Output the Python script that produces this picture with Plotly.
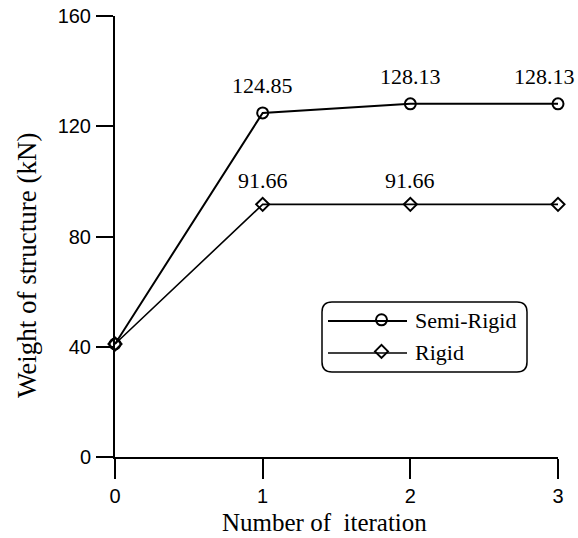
import plotly.graph_objects as go

iterations = [0, 1, 2, 3]
semi_rigid = [41.0, 124.85, 128.13, 128.13]
rigid = [41.0, 91.66, 91.66, 91.66]
semi_labels = ["", "124.85", "128.13", "128.13"]
rigid_labels = ["", "91.66", "91.66", ""]
y_ticks = [0, 40, 80, 120, 160]
x_ticks = [0, 1, 2, 3]

serif = "Liberation Serif, Times New Roman, serif"
sans = "Liberation Sans, Arial, sans-serif"

# plot area sits at x 115..558, y 16..457 of the 578x538 window
PX0, PW, PY0, PH = 115, 443, 16, 441
def px(x):
    return (x - PX0) / PW
def py(y):
    return (PY0 + PH - y) / PH

semi_marker = dict(symbol="circle-open", size=11, color="black", line=dict(width=2))
rigid_marker = dict(symbol="diamond-open", size=10, color="black", line=dict(width=2))

fig = go.Figure()
fig.add_trace(go.Scatter(
    x=iterations, y=semi_rigid, name="Semi-Rigid", mode="lines+markers",
    line=dict(color="black", width=2), marker=semi_marker,
    cliponaxis=False, showlegend=False,
))
fig.add_trace(go.Scatter(
    x=iterations, y=rigid, name="Rigid", mode="lines+markers",
    line=dict(color="black", width=1.6), marker=rigid_marker,
    cliponaxis=False, showlegend=False,
))
# legend entries (markers only; the long legend lines are drawn as shapes)
fig.add_trace(go.Scatter(x=[None], y=[None], name="Semi-Rigid", mode="markers",
                         marker=semi_marker))
fig.add_trace(go.Scatter(x=[None], y=[None], name="Rigid", mode="markers",
                         marker=rigid_marker))

last = len(iterations) - 1
for i, (xv, yv, t) in enumerate(zip(iterations, semi_rigid, semi_labels)):
    if t:
        fig.add_annotation(x=xv, y=yv, text=t, showarrow=False, yshift=27,
                           xshift=-14 if i == last else 0,
                           font=dict(family=serif, size=22, color="black"))
for i, (xv, yv, t) in enumerate(zip(iterations, rigid, rigid_labels)):
    if t:
        fig.add_annotation(x=xv, y=yv, text=t, showarrow=False, yshift=24,
                           font=dict(family=serif, size=22, color="black"))

# axis titles
fig.add_annotation(x=px(324), y=py(522), xref="paper", yref="paper",
                   xanchor="center", yanchor="middle",
                   text="Number of&nbsp;&nbsp;iteration", showarrow=False,
                   font=dict(family=serif, size=25, color="black"))
fig.add_annotation(x=px(27), y=py(265), xref="paper", yref="paper",
                   xanchor="center", yanchor="middle",
                   text="Weight of structure (kN)", showarrow=False, textangle=-90,
                   font=dict(family=serif, size=27, color="black"))

# rounded legend frame
x0, x1, y0, y1 = px(322), px(527), py(372), py(302)
rx, ry = 10 / PW, 10 / PH
path = (f"M {x0+rx},{y1} L {x1-rx},{y1} Q {x1},{y1} {x1},{y1-ry} "
        f"L {x1},{y0+ry} Q {x1},{y0} {x1-rx},{y0} L {x0+rx},{y0} "
        f"Q {x0},{y0} {x0},{y0+ry} L {x0},{y1-ry} Q {x0},{y1} {x0+rx},{y1} Z")
fig.add_shape(type="path", path=path, xref="paper", yref="paper",
              line=dict(color="black", width=1.5))
# legend sample lines
for yy, w in ((321, 2), (353, 1.6)):
    fig.add_shape(type="line", xref="paper", yref="paper",
                  x0=px(328), x1=px(407), y0=py(yy), y1=py(yy),
                  line=dict(color="black", width=w))

fig.update_layout(
    width=578, height=538,
    margin=dict(l=115, r=20, t=16, b=81),
    paper_bgcolor="white", plot_bgcolor="white",
    showlegend=True,
    legend=dict(x=px(348), y=py(299), xanchor="left", yanchor="top",
                bgcolor="rgba(0,0,0,0)", borderwidth=0,
                font=dict(family=serif, size=22, color="black"),
                itemwidth=57, tracegroupgap=0),
    xaxis=dict(range=[0, 3], tickvals=x_ticks, showgrid=False, zeroline=False,
               showline=True, linecolor="black", linewidth=2, automargin=False,
               ticks="outside", ticklen=20, tickwidth=2, tickcolor="black",
               ticklabeloverflow="allow",
               tickfont=dict(family=sans, size=20, color="black")),
    yaxis=dict(range=[0, 160], tickvals=y_ticks, showgrid=False, zeroline=False,
               showline=True, linecolor="black", linewidth=2, automargin=False,
               ticks="outside", ticklen=17, tickwidth=2, tickcolor="black",
               ticklabelstandoff=1, ticklabeloverflow="allow",
               tickfont=dict(family=sans, size=20, color="black")),
)

fig.write_html(
    "out.html",
    config={"displayModeBar": False},
    post_script="document.body.style.margin='0';document.body.style.overflow='hidden';",
)
